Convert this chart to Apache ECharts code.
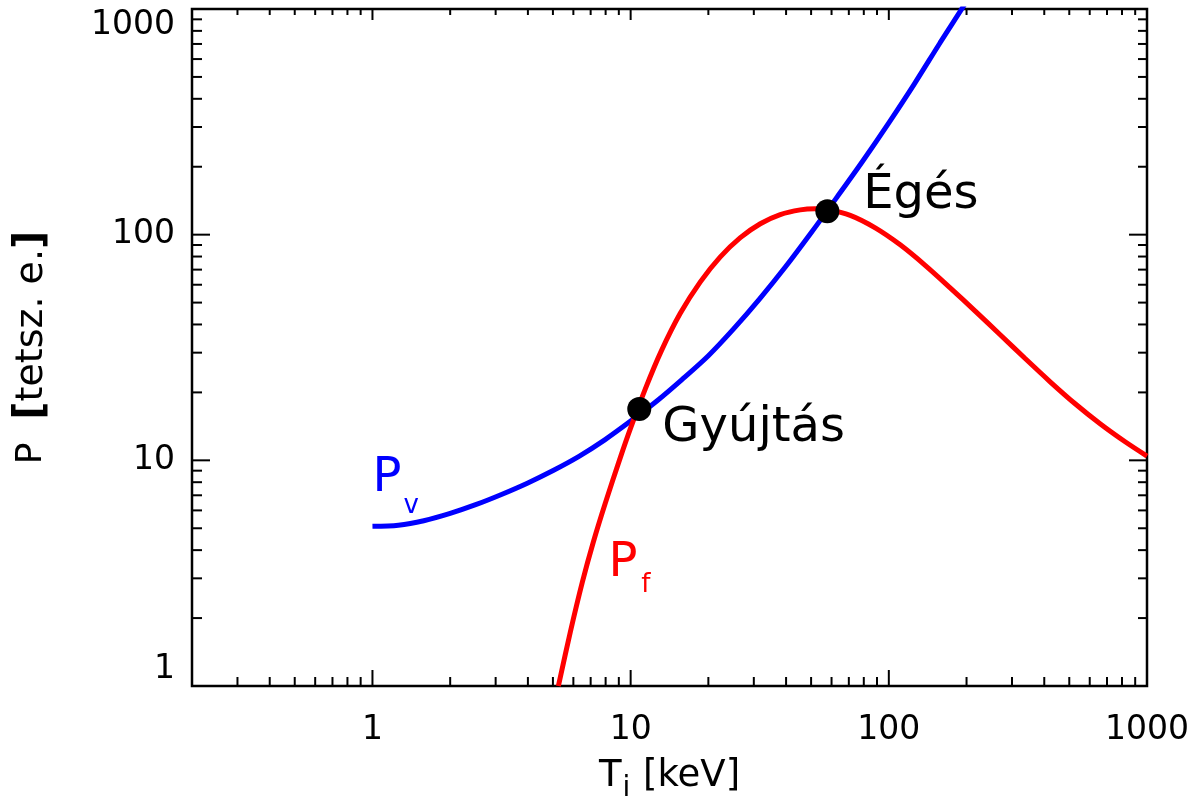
<!DOCTYPE html>
<html><head><meta charset="utf-8">
<script src="https://cdn.jsdelivr.net/npm/echarts@6/dist/echarts.min.js"></script>
<style>html,body{margin:0;padding:0;background:#fff}#c{width:1201px;height:801px}</style>
</head><body><div id="c"></div>
<script>
// axis ranges and ticks
const xRange = [0.2, 1000];
const yRange = [1, 1000];
const xTickLabels = ['1', '10', '100', '1000'];
const yTickLabels = ['1', '10', '100', '1000'];
const xMajorTicks = [1, 10, 100, 1000];
const yMajorTicks = [1, 10, 100, 1000];
const xMinorTicks = [0.3, 0.4, 0.5, 0.6, 0.7, 0.8, 0.9, 2, 3, 4, 5, 6, 7, 8, 9,
  20, 30, 40, 50, 60, 70, 80, 90, 200, 300, 400, 500, 600, 700, 800, 900];
const yMinorTicks = [2, 3, 4, 5, 6, 7, 8, 9, 20, 30, 40, 50, 60, 70, 80, 90,
  200, 300, 400, 500, 600, 700, 800, 900];

// P_v (blue)
const pvT = [1, 1.26, 1.58, 2, 2.51, 3.16, 3.98, 5.01, 6.31, 7.94, 10, 12.6, 15.8, 20, 25.1, 31.6, 39.8, 50.1, 63.1, 79.4, 100, 126, 158, 200];
const pvP = [5.10, 5.16, 5.40, 5.82, 6.36, 7.06, 7.92, 9.01, 10.41, 12.32, 14.92, 18.27, 22.79, 29.08, 38.33, 51.96, 72.04, 102.2, 147.1, 212.6, 313.0, 468.4, 708.9, 1080];

// P_f (red)
const pfT = [5.25, 5.84, 6.50, 7.17, 7.98, 9.12, 9.97, 11.40, 13.15, 15.57, 18.62, 22.25, 26.60, 31.78, 37.97, 45.39, 51.89, 57.74, 70.89, 88.6, 110.7, 138.3, 172.8, 216.1, 270.0, 337.4, 421.6, 526.8, 658.2, 822.8, 1000];
const pfP = [1.0, 1.735, 2.884, 4.346, 6.469, 10.28, 13.78, 20.74, 30.56, 44.81, 61.79, 79.72, 96.98, 111.8, 122.7, 128.8, 130.2, 129.2, 121.8, 107.2, 90.16, 73.15, 58.15, 45.86, 36.01, 28.25, 22.29, 17.81, 14.52, 12.08, 10.44];

// marked points
const pointNames = ['Gyújtás', 'Égés'];
const pointT = [10.8, 57.8];
const pointP = [16.9, 127];

// text annotations
const annotText = ['{mv|P}{v|v}', '{mf|P}{f|f}', 'Gyújtás', 'Égés'];
const annotColor = ['#0000ff', '#ff0000', '#000000', '#000000'];
const annotT = [1.0, 8.2, 13.27, 79.6];
const annotP = [8.3, 3.5, 13.8, 149];
const annotShift = [28, 22.5, 0, 0];

const FONT = 'DejaVu Sans';

function tickSeries(values, axis, lenA, lenB) {
  return {
    type: 'custom',
    coordinateSystem: 'cartesian2d',
    silent: true,
    clip: false,
    z: 5,
    data: values.map(v => axis === 'x' ? [v, yRange[0]] : [xRange[0], v]),
    renderItem: function (params, api) {
      const cs = params.coordSys;
      const p = api.coord([api.value(0), api.value(1)]);
      const style = { stroke: '#000', lineWidth: 2 };
      if (axis === 'x') {
        const b = cs.y + cs.height, t = cs.y;
        return { type: 'group', children: [
          { type: 'line', shape: { x1: p[0], y1: b, x2: p[0], y2: b - lenA }, style: style },
          { type: 'line', shape: { x1: p[0], y1: t, x2: p[0], y2: t + lenB }, style: style }
        ]};
      } else {
        const l = cs.x, r = cs.x + cs.width;
        return { type: 'group', children: [
          { type: 'line', shape: { x1: l, y1: p[1], x2: l + lenA, y2: p[1] }, style: style },
          { type: 'line', shape: { x1: r, y1: p[1], x2: r - lenB, y2: p[1] }, style: style }
        ]};
      }
    }
  };
}

function isLabel(v, labels) {
  const s = String(Math.round(v));
  return Math.abs(v - Math.round(v)) < 1e-6 && labels.indexOf(s) >= 0 ? s : '';
}

const chart = echarts.init(document.getElementById('c'), null, { renderer: 'canvas' });
chart.setOption({
  animation: false,
  backgroundColor: '#fff',
  grid: { left: 192, right: 54, top: 9, bottom: 115, containLabel: false, outerBoundsMode: 'none',
    show: true, borderColor: '#000', borderWidth: 2.5, backgroundColor: 'transparent' },
  xAxis: {
    type: 'log', logBase: 10, min: xRange[0], max: xRange[1],
    axisLine: { show: false }, axisTick: { show: false }, splitLine: { show: false },
    minorTick: { show: false }, minorSplitLine: { show: false },
    axisLabel: { color: '#000', fontFamily: FONT, fontSize: 33, margin: 28,
      formatter: v => isLabel(v, xTickLabels) },
    name: '{n|T}{s|i}{n| [keV]}',
    nameLocation: 'middle', nameGap: 72,
    nameTextStyle: { color: '#000', fontFamily: FONT,
      rich: { n: { fontSize: 37, verticalAlign: 'top', fontFamily: FONT, color: '#000' },
              s: { fontSize: 28, verticalAlign: 'top', padding: [17, 1, 0, 1], fontFamily: FONT, color: '#000' } } }
  },
  yAxis: {
    type: 'log', logBase: 10, min: yRange[0], max: yRange[1],
    axisLine: { show: false }, axisTick: { show: false }, splitLine: { show: false },
    minorTick: { show: false }, minorSplitLine: { show: false },
    axisLabel: { color: '#000', fontFamily: FONT, fontSize: 33, margin: 17,
      verticalAlignMinLabel: 'bottom', verticalAlignMaxLabel: 'top',
      formatter: v => isLabel(v, yTickLabels) },
    name: '{n|P  }{b|[}{t|tetsz. e.}{b|]}',
    nameLocation: 'middle', nameGap: 140,
    nameTextStyle: { color: '#000', fontFamily: FONT,
      rich: { n: { fontSize: 36, fontFamily: FONT, color: '#000' },
              t: { fontSize: 38, fontFamily: FONT, color: '#000' },
              b: { fontSize: 40, fontWeight: 'bold', fontFamily: FONT, color: '#000' } } }
  },
  series: [
    tickSeries(xMajorTicks, 'x', 16, 11),
    tickSeries(xMinorTicks, 'x', 9, 6),
    tickSeries(yMajorTicks, 'y', 18, 18),
    tickSeries(yMinorTicks, 'y', 10, 9),
    {
      name: 'Pv', type: 'line', smooth: 0.3, symbol: 'none', z: 3,
      lineStyle: { color: '#0000ff', width: 5 },
      data: pvT.map((t, i) => [t, pvP[i]])
    },
    {
      name: 'Pf', type: 'line', smooth: 0.3, symbol: 'none', z: 4,
      lineStyle: { color: '#ff0000', width: 5 },
      data: pfT.map((t, i) => [t, pfP[i]])
    },
    {
      name: 'points', type: 'scatter', symbol: 'circle', symbolSize: 24, z: 6,
      itemStyle: { color: '#000', opacity: 1 },
      data: pointT.map((t, i) => ({ name: pointNames[i], value: [t, pointP[i]] }))
    },
    {
      name: 'annotations', type: 'scatter', symbolSize: 1, z: 7, silent: true,
      itemStyle: { color: 'rgba(0,0,0,0)', opacity: 1 },
      data: annotT.map((t, i) => ({
        value: [t, annotP[i]],
        label: {
          show: true, position: 'inside', align: 'left', verticalAlign: 'middle',
          offset: [0, annotShift[i]],
          formatter: annotText[i], color: annotColor[i], fontFamily: FONT, fontSize: 48, opacity: 1,
          rich: {
            mv: { fontSize: 48, padding: [0, 0, 56, 0], fontFamily: FONT, color: annotColor[i] },
            mf: { fontSize: 48, padding: [0, 0, 45, 0], fontFamily: FONT, color: annotColor[i] },
            v: { fontSize: 26, padding: [0, 0, 0, 2], fontFamily: FONT, color: annotColor[i] },
            f: { fontSize: 26, padding: [0, 0, 0, 4], fontFamily: FONT, color: annotColor[i] }
          }
        }
      }))
    }
  ]
});
</script></body></html>
